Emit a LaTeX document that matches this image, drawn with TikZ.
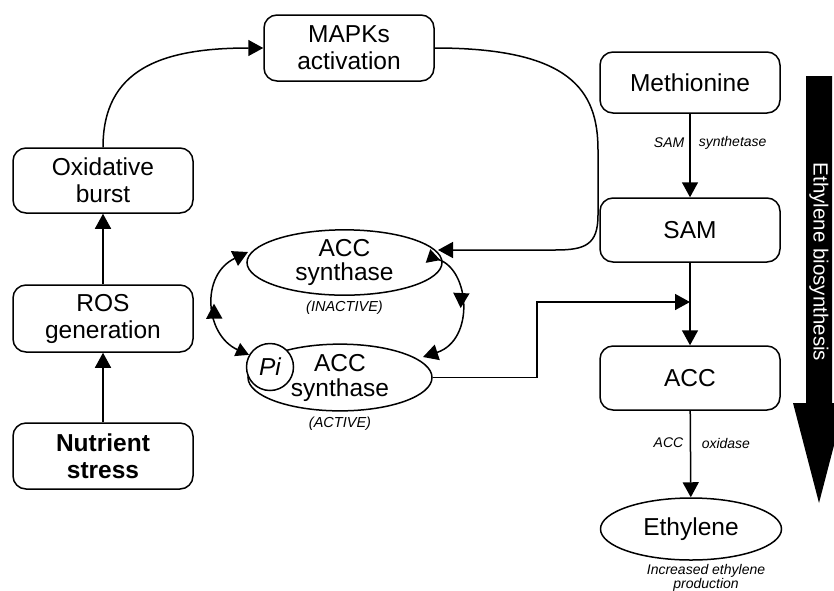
\documentclass[tikz,border=0pt]{standalone}
\usepackage{fontspec}
\setmainfont{Liberation Sans}
\usepackage{tikz}
\usetikzlibrary{arrows.meta,positioning,shapes.geometric,decorations.markings}

\tikzset{
	tip/.style={-{Triangle[length=15pt,width=16pt]}},
	midtip/.style={postaction={decorate},decoration={markings,mark=at position 0.5 with {\arrow{Triangle[length=15pt,width=16pt]}}}},
	box/.style={rectangle,draw,rounded corners=13pt,minimum width=180pt,minimum height=64pt,align=center,inner sep=2pt,font=\fontsize{24.5}{27}\selectfont},
	enz/.style={draw=none,inner sep=0pt,font=\fontsize{14}{15}\selectfont\itshape},
	state/.style={draw=none,inner sep=0pt,font=\fontsize{14.5}{15}\selectfont\itshape}
}

\begin{document}
\begin{tikzpicture}[x=1pt,y=-1pt,line width=1.5pt]
	\useasboundingbox (0,0) rectangle (834,590);

	% big arrow on the right
	\fill (806,76) -- (832,76) -- (832,403) -- (845,403) -- (819,503) -- (793,403) -- (806,403) -- cycle;
	\node[rotate=-90,text=white,font=\fontsize{20.5}{22}\selectfont] (bio) at (819,262) {Ethylene biosynthesis};

	\begin{scope}
		\node[box,minimum width=170pt,minimum height=66pt] (mapk) at (349,48) {MAPKs\\activation};
		\node[box,minimum height=65pt] (ox) at (103,180.5) {Oxidative\\burst};
		\node[box,minimum height=67pt] (ros) at (103,318.5) {ROS\\generation};
		\node[box,minimum height=66pt,font=\fontsize{24.5}{27}\selectfont\bfseries] (nut) at (103,456) {Nutrient\\stress};

		\node[box,minimum height=61pt] (meth) at (690,82.5) {Methionine};
		\node[box] (sam) at (690,230) {SAM};
		\node[box] (acc) at (690,378) {ACC};
		\node[draw,ellipse,minimum width=181pt,minimum height=62pt,inner sep=0pt,font=\fontsize{24.5}{27}\selectfont] (eth) at (691,529) {Ethylene};
		\node[state,align=center,font=\fontsize{14}{13.5}\selectfont\itshape,below=3pt of eth,xshift=15pt] (incr) {Increased ethylene\\production};

		\node[enz,anchor=east] (samA) at (685,143) {SAM};
		\node[enz,anchor=west] (samB) at (698,143) {synthetase};
		\node[enz,anchor=east] (accA) at (684,443) {ACC};
		\node[enz,anchor=west] (accB) at (701,443) {oxidase};

		\node[draw,ellipse,minimum width=195pt,minimum height=55pt,inner sep=0pt,align=center,font=\fontsize{24.5}{24}\selectfont] (inactive) at (344.5,262.5) {ACC\\synthase};
		\node[state,below=4pt of inactive] (inlab) {(INACTIVE)};
		\node[draw,ellipse,minimum width=184pt,minimum height=65pt,inner sep=0pt,align=center,font=\fontsize{24.5}{25}\selectfont] (active) at (340,377.5) {ACC\\synthase};
		\node[state,below=5pt of active] (actlab) {(ACTIVE)};
		\node[draw,circle,fill=white,minimum size=47pt,inner sep=0pt,font=\fontsize{24.5}{27}\selectfont\itshape] (pi) at (270,367) {Pi};
	\end{scope}

	\coordinate (inIn) at (438,250);
	\coordinate (rStart) at (428,256);
	\coordinate (rEnd) at (423,357);
	\coordinate (lEnd) at (248,252);
	\coordinate (meet) at (690,302);

	\begin{scope}
		\draw[tip] (nut) -- (ros);
		\draw[tip] (ros) -- (ox);
		\draw[tip] (ox.north) .. controls (103,70) and (160,48) .. (mapk.west);
		\draw[tip] (mapk.east) .. controls (570,48) and (598,90) .. (598,150) -- (598,215) .. controls (598,245) and (585,250) .. (555,250) -- (inIn);
		\draw[midtip,{Triangle[reversed,length=13pt,width=14pt]}-{Triangle[length=15pt,width=16pt]}] (rStart) .. controls (470,270) and (475,340) .. (rEnd);
		\draw[midtip,{Triangle[length=13pt,width=14pt]}-{Triangle[length=15pt,width=16pt]}] (pi.150) .. controls (205,335) and (200,275) .. (lEnd);
		\draw[tip] (active.east) -- ++(104,0) |- (meet);
		\draw[tip] (meth) -- (sam);
		\draw[tip] (sam) -- (acc);
		\draw[tip] (acc) -- (eth);
	\end{scope}
\end{tikzpicture}
\end{document}
